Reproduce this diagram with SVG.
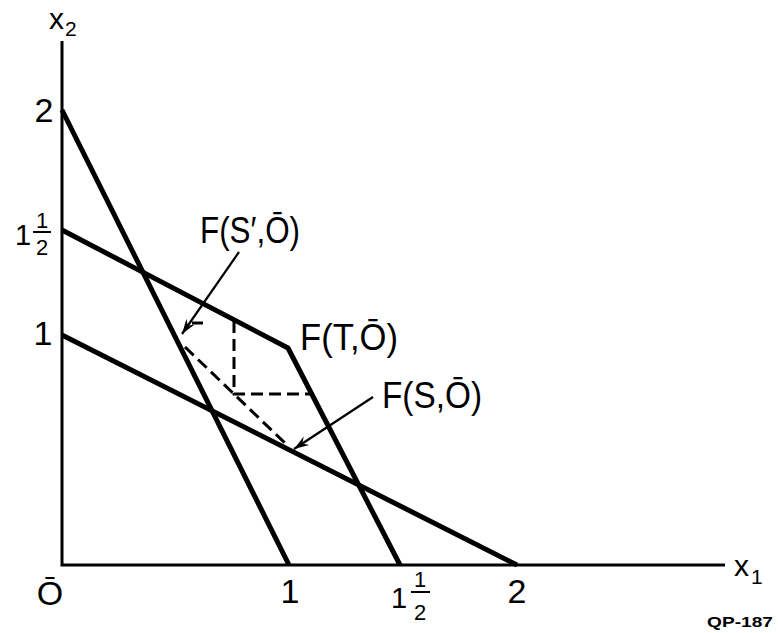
<svg xmlns="http://www.w3.org/2000/svg" width="778" height="633" viewBox="0 0 778 633">
<style>
.ax{stroke:#000;stroke-width:3;fill:none;stroke-linejoin:miter}
.ln{stroke:#000;stroke-width:5;fill:none;stroke-linejoin:round;stroke-linecap:butt}
.ds{stroke:#000;stroke-width:3;fill:none;stroke-dasharray:12 6}
.ar{stroke:#000;stroke-width:2.2;fill:none;marker-end:url(#ah)}
.bar{stroke:#000;stroke-width:2}
text{font-family:"Liberation Sans",Arial,sans-serif;fill:#000}
.lb{font-size:36px}
.nm{font-size:34px;text-anchor:middle}
.mx{font-size:29px;text-anchor:middle}
.fr{font-size:22px;text-anchor:middle}
.var{font-size:30px}
.sub{font-size:21px}
.code{font-size:15px;font-weight:bold}
</style>
<defs>
<marker id="ah" viewBox="0 0 16 12" refX="15" refY="6" markerWidth="16" markerHeight="12" markerUnits="userSpaceOnUse" orient="auto">
<path d="M0,1 L15,6 L0,11 L5,6 Z" fill="#000"/>
</marker>
</defs>
<g id="axes">
<path class="ax" d="M62,41 V565 H725"/>
<text class="var" x="49" y="29">x</text><text class="sub" x="65" y="36">2</text>
<text class="var" x="734" y="576">x</text><text class="sub" x="751" y="584">1</text>
</g>
<g id="ticks">
<text class="nm" x="44" y="122">2</text>
<text class="mx" x="23" y="245">1</text>
<text class="fr" x="42" y="228">1</text>
<line class="bar" x1="33" y1="232" x2="51" y2="232"/>
<text class="fr" x="42" y="255">2</text>
<text class="nm" x="43" y="345">1</text>
<text class="nm" x="50" y="605">Ō</text>
<text class="nm" x="290" y="603">1</text>
<text class="mx" x="399" y="608">1</text>
<text class="fr" x="420" y="587">1</text>
<line class="bar" x1="411" y1="592" x2="430" y2="592"/>
<text class="fr" x="420" y="620">2</text>
<text class="nm" x="517" y="603">2</text>
</g>
<g id="constraint-lines">
<path class="ln" d="M62,110 L289,565"/>
<path id="FT" class="ln" d="M62,230 L288,348 L400,565"/>
<path class="ln" d="M62,335 L517,565"/>
</g>
<g id="dashed">
<path class="ds" d="M234,321 V394 H312"/>
<path class="ds" d="M192,323 H203"/>
<path class="ds" d="M185,347 L286,444"/>
</g>
<g id="connectors">
<path class="ar" d="M239,252 L182,334"/>
<path class="ar" d="M373,397 L294,449"/>
</g>
<g id="label-FSprime">
<text class="lb" x="200" y="243" textLength="100" lengthAdjust="spacingAndGlyphs">F(S′,Ō)</text>
</g>
<g id="label-FT">
<text class="lb" x="300" y="350" textLength="98" lengthAdjust="spacingAndGlyphs">F(T,Ō)</text>
</g>
<g id="label-FS">
<text class="lb" x="382" y="408" textLength="100" lengthAdjust="spacingAndGlyphs">F(S,Ō)</text>
</g>
<g id="code">
<text class="code" x="707" y="627" textLength="66" lengthAdjust="spacingAndGlyphs">QP-187</text>
</g>
</svg>
